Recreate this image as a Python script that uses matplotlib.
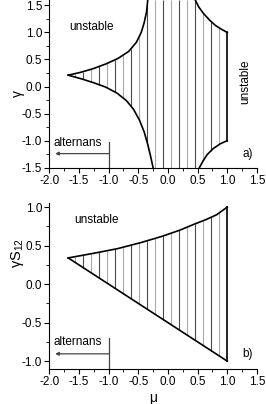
import numpy as np
import matplotlib
matplotlib.use("Agg")
import matplotlib.pyplot as plt
from matplotlib.ticker import MultipleLocator

plt.rcParams["font.family"] = ["Liberation Sans", "DejaVu Sans"]
plt.rcParams["mathtext.fontset"] = "custom"
plt.rcParams["mathtext.rm"] = "Liberation Sans"
plt.rcParams["mathtext.it"] = "Liberation Sans"

# panel a) boundaries (mu, gamma)
a_upper_left_mu = [-1.68, -1.48, -1.26, -1.04, -0.84, -0.66, -0.53, -0.45, -0.40, -0.36, -0.34]
a_upper_left_g = [0.21, 0.26, 0.33, 0.42, 0.52, 0.65, 0.82, 1.00, 1.18, 1.38, 1.60]
a_lower_left_mu = [-1.68, -1.45, -1.25, -1.05, -0.86, -0.70, -0.58, -0.48, -0.40, -0.34, -0.29, -0.25]
a_lower_left_g = [0.21, 0.14, 0.07, -0.01, -0.12, -0.26, -0.42, -0.62, -0.84, -1.07, -1.30, -1.50]
a_upper_right_mu = [0.46, 0.52, 0.60, 0.70, 0.80, 0.90, 1.00]
a_upper_right_g = [1.60, 1.47, 1.35, 1.23, 1.13, 1.06, 1.00]
a_lower_right_mu = [0.53, 0.59, 0.66, 0.76, 0.88, 1.00]
a_lower_right_g = [-1.50, -1.38, -1.26, -1.15, -1.06, -1.00]

# panel b) boundaries (mu, gamma*S12)
b_upper_mu = [-1.68, -1.25, -0.85, -0.45, -0.10, 0.20, 0.45, 0.65, 0.82, 1.00]
b_upper_g = [0.34, 0.40, 0.46, 0.54, 0.62, 0.70, 0.78, 0.84, 0.90, 1.00]
b_lower_mu = [-1.68, 1.00]
b_lower_g = [0.34, -1.00]

# vertical hatching positions (the one at 1.0 is the solid boundary)
hatch_mu = [0.865, 0.73, 0.595, 0.46, 0.325, 0.19, 0.055, -0.08, -0.215, -0.35,
            -0.485, -0.62, -0.755, -0.89, -1.025, -1.16, -1.295, -1.43, -1.565]

x_ticks = [-2.0, -1.5, -1.0, -0.5, 0.0, 0.5, 1.0, 1.5]
a_y_ticks = [-1.5, -1.0, -0.5, 0.0, 0.5, 1.0, 1.5]
b_y_ticks = [-1.0, -0.5, 0.0, 0.5, 1.0]

fs = 8.5
line_kw = dict(color="black", lw=1.2)


def style_axis(ax, ylim, yticks):
    ax.set_xlim(-2.0, 1.5)
    ax.set_ylim(*ylim)
    ax.spines["top"].set_visible(False)
    ax.spines["right"].set_visible(False)
    ax.set_xticks(x_ticks, [f"{v:.1f}" for v in x_ticks])
    ax.set_yticks(yticks, [f"{v:.1f}" for v in yticks])
    ax.xaxis.set_minor_locator(MultipleLocator(0.25))
    ax.yaxis.set_minor_locator(MultipleLocator(0.25))
    ax.tick_params(which="major", direction="out", length=3.5, width=0.8, labelsize=fs, pad=1.5)
    ax.tick_params(which="minor", direction="out", length=2, width=0.6)


def draw_hatch(ax, lo, hi):
    colors = ["#a8a8a8" if i % 2 == 0 else "#4a4a4a" for i in range(len(hatch_mu))]
    ax.vlines(hatch_mu, lo, hi, colors=colors, lw=0.8, zorder=1)


def draw_alternans(ax, y_text, y_arrow, y_top, y_bottom):
    ax.plot([-1.0, -1.0], [y_bottom, y_top], color="#444444", lw=0.9, clip_on=False)
    ax.annotate("", xy=(-1.9, y_arrow), xytext=(-1.0, y_arrow),
                arrowprops=dict(arrowstyle="-|>", color="#444444", lw=0.9,
                                mutation_scale=5, shrinkA=0, shrinkB=0))
    ax.text(-1.92, y_text, "alternans", fontsize=fs, ha="left", va="center")


fig = plt.figure(figsize=(2.66, 4.04), dpi=100)
ax1 = fig.add_axes([0.185, 0.585, 0.781, 0.415])
ax2 = fig.add_axes([0.185, 0.087, 0.781, 0.41])

# --- panel a)
style_axis(ax1, (-1.5, 1.6), a_y_ticks)
h = np.array(hatch_mu)
a_hi = np.where(h < -0.34, np.interp(h, a_upper_left_mu, a_upper_left_g),
                np.where(h > 0.46, np.interp(h, a_upper_right_mu, a_upper_right_g), 1.6))
a_lo = np.where(h < -0.25, np.interp(h, a_lower_left_mu, a_lower_left_g),
                np.where(h > 0.53, np.interp(h, a_lower_right_mu, a_lower_right_g), -1.5))
draw_hatch(ax1, a_lo, a_hi)
ax1.plot(a_upper_left_mu, a_upper_left_g, **line_kw)
ax1.plot(a_lower_left_mu, a_lower_left_g, **line_kw)
ax1.plot(a_upper_right_mu, a_upper_right_g, **line_kw)
ax1.plot(a_lower_right_mu, a_lower_right_g, **line_kw)
ax1.plot([1.0, 1.0], [-1.0, 1.0], **line_kw)
ax1.text(-1.67, 1.1, "unstable", fontsize=fs, ha="left", va="center")
ax1.text(1.30, 0.09, "unstable", fontsize=fs, ha="center", va="center", rotation=90)
ax1.text(1.25, -1.24, "a)", fontsize=fs, ha="left", va="center")
draw_alternans(ax1, -1.05, -1.24, -1.02, -1.5)
ax1.set_ylabel("γ", fontsize=10)
ax1.yaxis.set_label_coords(-0.115, 0.445)

# --- panel b)
style_axis(ax2, (-1.1, 1.05), b_y_ticks)
b_hi = np.interp(h, b_upper_mu, b_upper_g)
b_lo = np.interp(h, b_lower_mu, b_lower_g)
draw_hatch(ax2, b_lo, b_hi)
ax2.plot(b_upper_mu, b_upper_g, **line_kw)
ax2.plot(b_lower_mu, b_lower_g, **line_kw)
ax2.plot([1.0, 1.0], [-1.0, 1.0], **line_kw)
ax2.text(-1.58, 0.83, "unstable", fontsize=fs, ha="left", va="center")
ax2.text(1.26, -0.905, "b)", fontsize=fs, ha="left", va="center")
draw_alternans(ax2, -0.745, -0.905, -0.70, -1.1)
ax2.set_ylabel("γS$_{12}$", fontsize=10.5)
ax2.yaxis.set_label_coords(-0.11, 0.70)
ax2.set_xlabel("μ", fontsize=10, labelpad=2)

fig.savefig("out.png", dpi=100)
